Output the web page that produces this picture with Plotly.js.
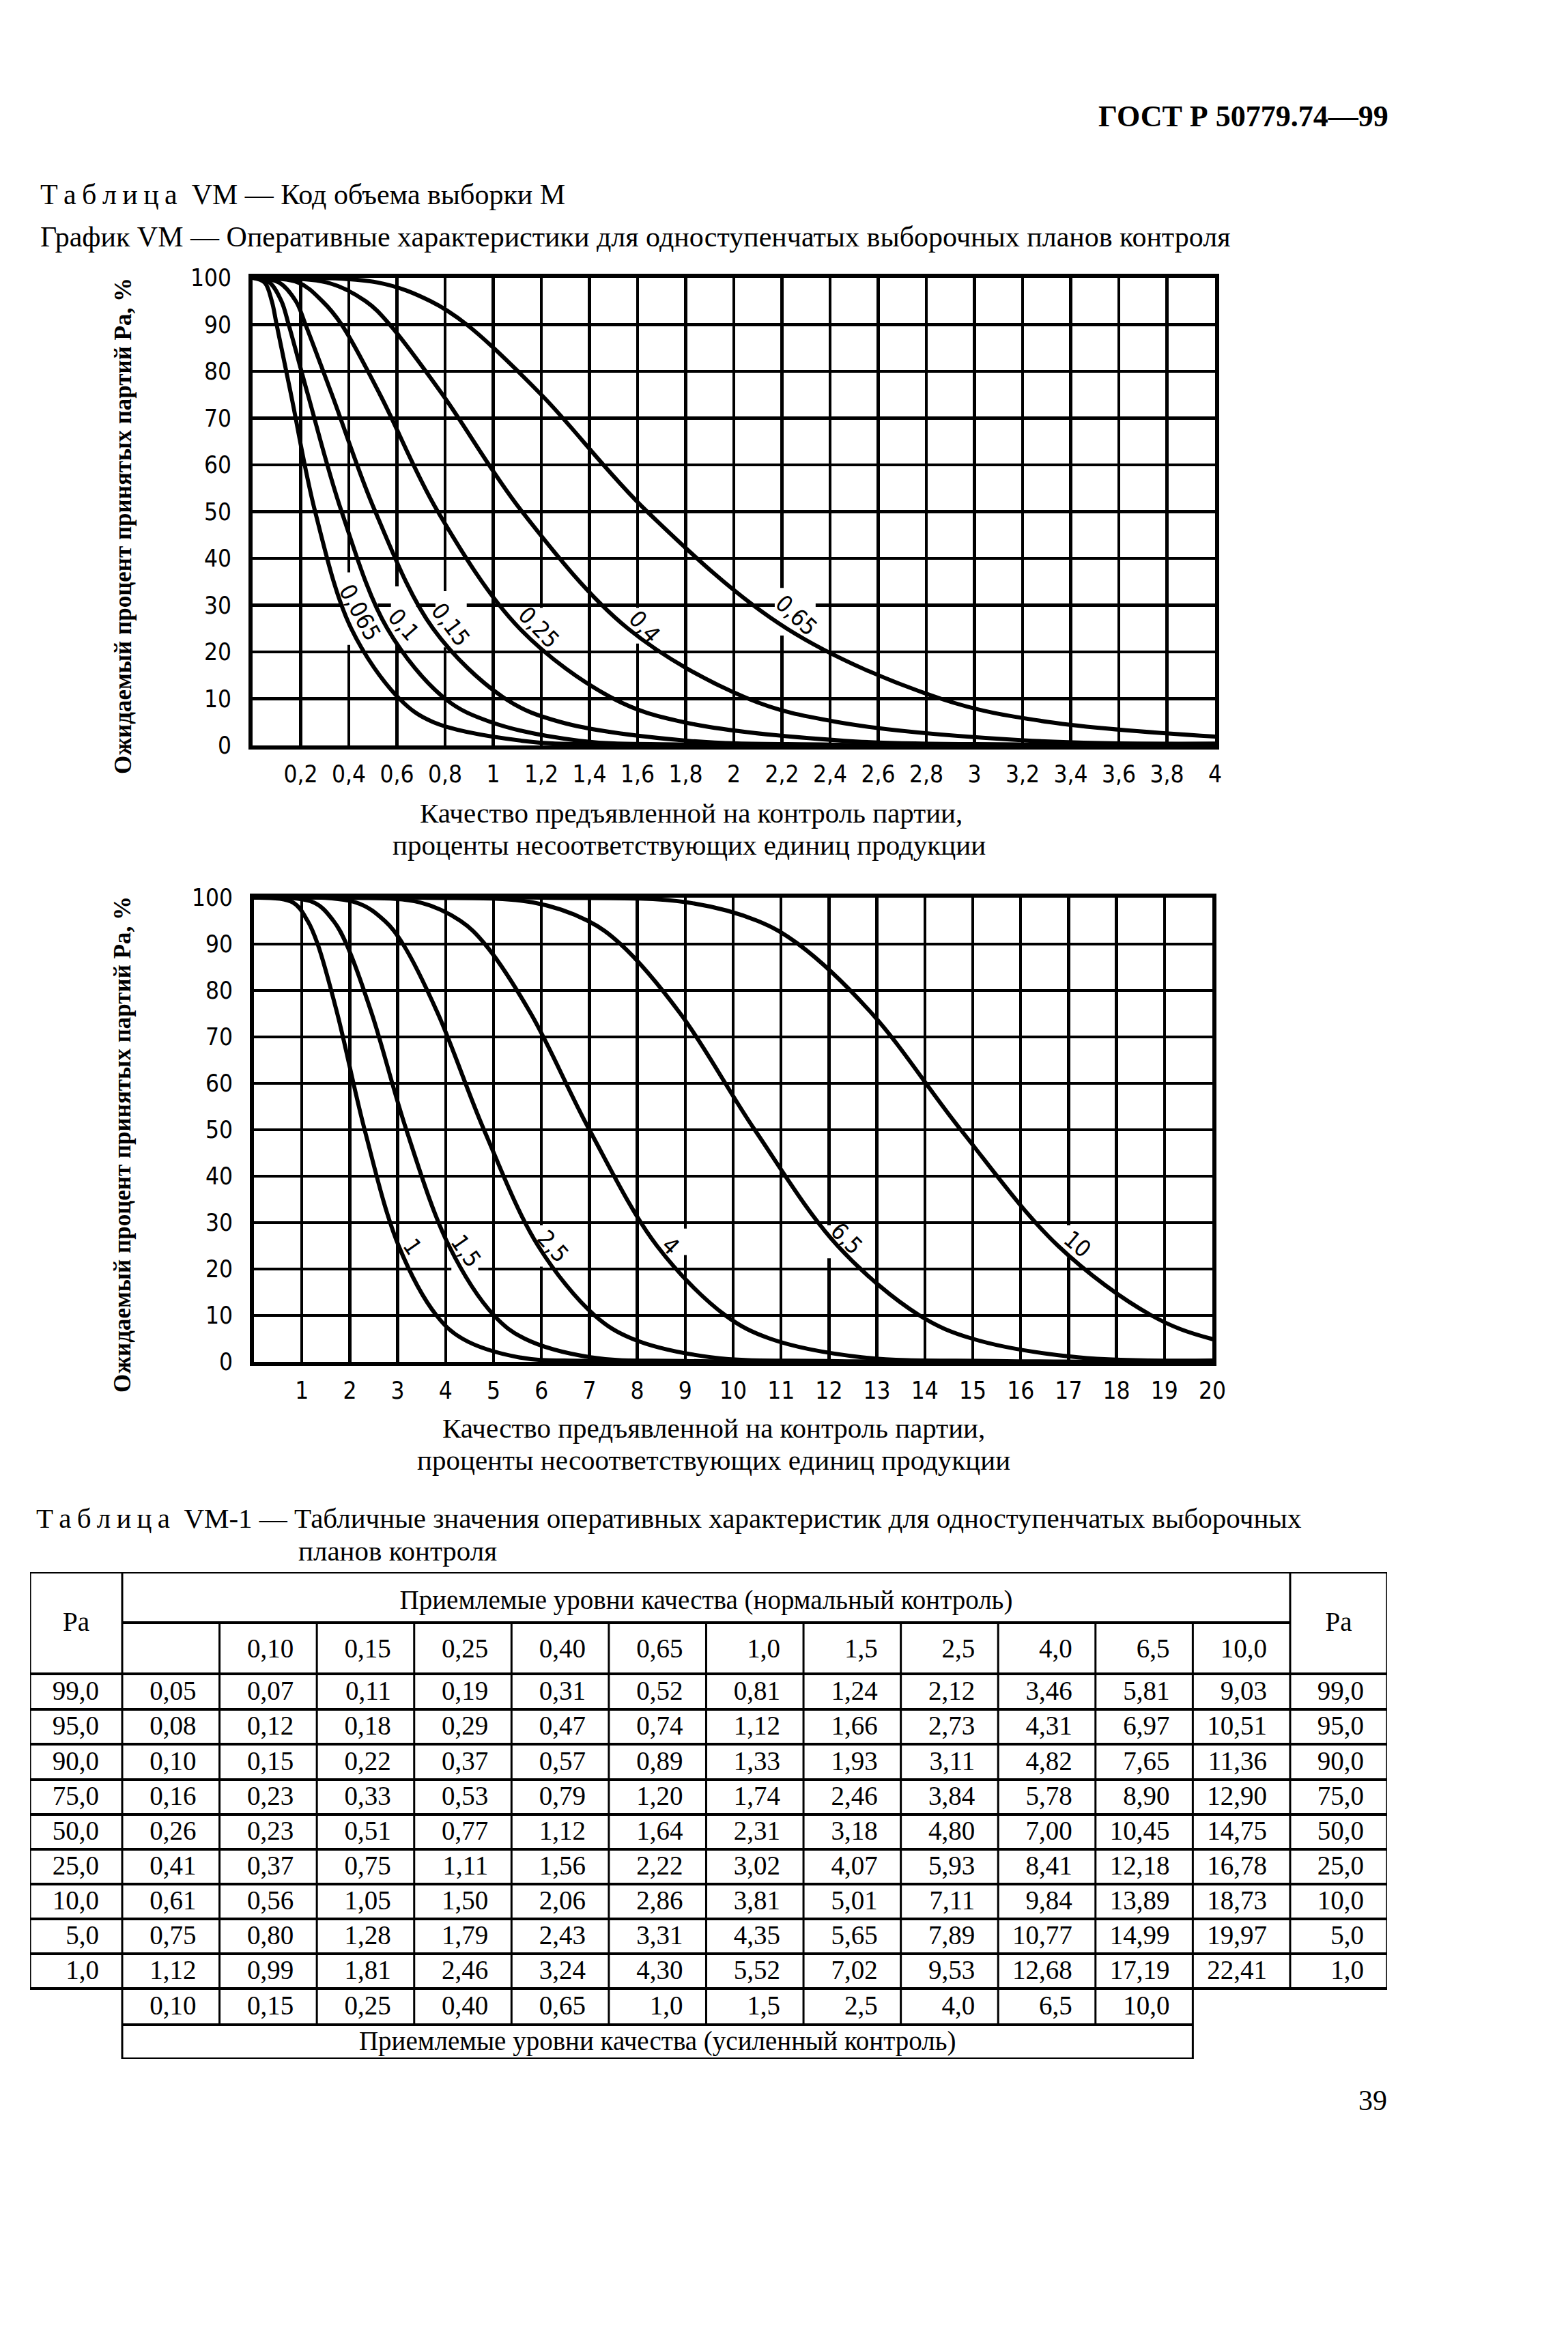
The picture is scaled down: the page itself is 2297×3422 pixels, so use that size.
<!DOCTYPE html>
<html><head><meta charset="utf-8">
<script src="https://cdn.plot.ly/plotly-3.0.1.min.js"></script>
<style>html,body{margin:0;padding:0;background:#fff}</style>
</head><body><div id="chart" style="width:2297px;height:3422px"></div>
<script>
// ---------------- DATA ----------------
// Upper chart (normal AQL 0,065 ... 0,65): Pa (%) vs quality (% nonconforming)
const topLabels = ['0,065', '0,1', '0,15', '0,25', '0,4', '0,65'];
const top065X  = [0, 0.05, 0.08, 0.10, 0.16, 0.26, 0.41, 0.61, 0.75, 1.12, 1.5, 4.0];
const top065Pa = [100, 99, 95, 90, 75, 50, 25, 10, 5, 1, 0.2, 0];
const top010X  = [0, 0.07, 0.12, 0.15, 0.23, 0.37, 0.56, 0.80, 0.99, 1.36, 1.8, 4.0];
const top010Pa = [100, 99, 95, 90, 75, 50, 25, 10, 5, 1, 0.2, 0];
const top015X  = [0, 0.11, 0.18, 0.22, 0.33, 0.51, 0.75, 1.05, 1.28, 1.81, 2.4, 4.0];
const top015Pa = [100, 99, 95, 90, 75, 50, 25, 10, 5, 1, 0.2, 0];
const top025X  = [0, 0.19, 0.29, 0.37, 0.53, 0.77, 1.11, 1.50, 1.79, 2.46, 3.2, 4.0];
const top025Pa = [100, 99, 95, 90, 75, 50, 25, 10, 5, 1, 0.2, 0.05];
const top040X  = [0, 0.31, 0.47, 0.57, 0.79, 1.12, 1.56, 2.06, 2.43, 3.24, 4.0];
const top040Pa = [100, 99, 95, 90, 75, 50, 25, 10, 5, 1, 0.4];
const top0651X  = [0, 0.52, 0.74, 0.89, 1.20, 1.64, 2.22, 2.86, 3.31, 4.30];
const top0651Pa = [100, 99, 95, 90, 75, 50, 25, 10, 5, 1];

// Lower chart (normal AQL 1 ... 10)
const botLabels = ['1', '1,5', '2,5', '4', '6,5', '10'];
const bot10X   = [0, 0.81, 1.12, 1.33, 1.74, 2.31, 3.02, 3.81, 4.35, 5.52, 7.0, 20];
const bot10Pa  = [100, 99, 95, 90, 75, 50, 25, 10, 5, 1, 0.2, 0];
const bot15X   = [0, 1.24, 1.66, 1.93, 2.46, 3.18, 4.07, 5.01, 5.65, 7.02, 9.0, 20];
const bot15Pa  = [100, 99, 95, 90, 75, 50, 25, 10, 5, 1, 0.2, 0];
const bot25X   = [0, 2.12, 2.73, 3.11, 3.84, 4.80, 5.93, 7.11, 7.89, 9.53, 12.0, 20];
const bot25Pa  = [100, 99, 95, 90, 75, 50, 25, 10, 5, 1, 0.2, 0];
const bot40X   = [0, 2.0, 3.46, 4.31, 4.82, 5.78, 7.00, 8.41, 9.84, 10.77, 12.68, 15.5, 20];
const bot40Pa  = [100, 100, 99, 95, 90, 75, 50, 25, 10, 5, 1, 0.2, 0.02];
const bot65X   = [0, 3.5, 5.81, 6.97, 7.65, 8.90, 10.45, 12.18, 13.89, 14.99, 17.19, 20];
const bot65Pa  = [100, 100, 99, 95, 90, 75, 50, 25, 10, 5, 1, 0.3];
const bot100X  = [0, 6.0, 9.03, 10.51, 11.36, 12.90, 14.75, 16.78, 18.73, 19.97, 22.41];
const bot100Pa = [100, 100, 99, 95, 90, 75, 50, 25, 10, 5, 1];

// Tick labels
const topXTickVals = [0.2,0.4,0.6,0.8,1,1.2,1.4,1.6,1.8,2,2.2,2.4,2.6,2.8,3,3.2,3.4,3.6,3.8,4];
const topXTickText = ['0,2','0,4','0,6','0,8','1','1,2','1,4','1,6','1,8','2','2,2','2,4','2,6','2,8','3','3,2','3,4','3,6','3,8','4'];
const botXTickVals = [1,2,3,4,5,6,7,8,9,10,11,12,13,14,15,16,17,18,19,20];
const botXTickText = ['1','2','3','4','5','6','7','8','9','10','11','12','13','14','15','16','17','18','19','20'];
const yTickVals = [0,10,20,30,40,50,60,70,80,90,100];
const yTickText = ['0','10','20','30','40','50','60','70','80','90','100'];

// Table VM-1
const tablePa = ['99,0','95,0','90,0','75,0','50,0','25,0','10,0','5,0','1,0'];
const normalAQL = ['0,10','0,15','0,25','0,40','0,65','1,0','1,5','2,5','4,0','6,5','10,0'];
const tightAQL  = ['0,10','0,15','0,25','0,40','0,65','1,0','1,5','2,5','4,0','6,5','10,0'];
const row99 = ['0,05','0,07','0,11','0,19','0,31','0,52','0,81','1,24','2,12','3,46','5,81','9,03'];
const row95 = ['0,08','0,12','0,18','0,29','0,47','0,74','1,12','1,66','2,73','4,31','6,97','10,51'];
const row90 = ['0,10','0,15','0,22','0,37','0,57','0,89','1,33','1,93','3,11','4,82','7,65','11,36'];
const row75 = ['0,16','0,23','0,33','0,53','0,79','1,20','1,74','2,46','3,84','5,78','8,90','12,90'];
const row50 = ['0,26','0,23','0,51','0,77','1,12','1,64','2,31','3,18','4,80','7,00','10,45','14,75'];
const row25 = ['0,41','0,37','0,75','1,11','1,56','2,22','3,02','4,07','5,93','8,41','12,18','16,78'];
const row10 = ['0,61','0,56','1,05','1,50','2,06','2,86','3,81','5,01','7,11','9,84','13,89','18,73'];
const row5  = ['0,75','0,80','1,28','1,79','2,43','3,31','4,35','5,65','7,89','10,77','14,99','19,97'];
const row1  = ['1,12','0,99','1,81','2,46','3,24','4,30','5,52','7,02','9,53','12,68','17,19','22,41'];
const tableRows = [row99,row95,row90,row75,row50,row25,row10,row5,row1];

// ---------------- LAYOUT HELPERS ----------------
const W = 2297, H = 3422;
const px = v => v / W;
const py = v => 1 - v / H;
const SERIF = 'Liberation Serif, Times New Roman, serif';
const SANS = 'DejaVu Sans Condensed, DejaVu Sans, sans-serif';

const curveLine = {color:'#000', width:6, shape:'spline', smoothing:1};
const traces = [];
[[top065X,top065Pa],[top010X,top010Pa],[top015X,top015Pa],[top025X,top025Pa],[top040X,top040Pa],[top0651X,top0651Pa]]
  .forEach(([x,y]) => traces.push({type:'scatter', mode:'lines', x, y, xaxis:'x', yaxis:'y', line:curveLine, hoverinfo:'skip'}));
[[bot10X,bot10Pa],[bot15X,bot15Pa],[bot25X,bot25Pa],[bot40X,bot40Pa],[bot65X,bot65Pa],[bot100X,bot100Pa]]
  .forEach(([x,y]) => traces.push({type:'scatter', mode:'lines', x, y, xaxis:'x2', yaxis:'y2', line:curveLine, hoverinfo:'skip'}));

// ---- table geometry (table units ~ px, origin at top-left of table) ----
const firstColW = 135, colW = 142.58, tableW = 1988;
const rowEdges = [0, 74, 149, 201, 252, 304, 355, 406, 457, 508, 559, 610, 663, 713];
const colEdge = k => firstColW + k * colW; // k = 0..12
const pad = 34;

const numX = [], numY = [], numT = [];
tableRows.forEach((row, r) => {
  const yc = (rowEdges[r+2] + rowEdges[r+3]) / 2 + 2;
  numX.push(firstColW - pad); numY.push(yc); numT.push(tablePa[r]);
  row.forEach((v, c) => { numX.push(colEdge(c+1) - pad); numY.push(yc); numT.push(v); });
  numX.push(tableW - pad); numY.push(yc); numT.push(tablePa[r]);
});
normalAQL.forEach((v, i) => { numX.push(colEdge(i+2) - pad); numY.push((rowEdges[1]+rowEdges[2])/2 + 4); numT.push(v); });
tightAQL.forEach((v, i) => { numX.push(colEdge(i+1) - pad); numY.push((rowEdges[11]+rowEdges[12])/2 + 2); numT.push(v); });

traces.push({type:'scatter', mode:'text', x:numX, y:numY, text:numT, textposition:'middle left',
  textfont:{family:SERIF, size:39, color:'#000'}, xaxis:'x3', yaxis:'y3', hoverinfo:'skip'});
traces.push({type:'scatter', mode:'text',
  x:[firstColW/2, (colEdge(12)+tableW)/2, (firstColW+colEdge(12))/2, (firstColW+colEdge(11))/2],
  y:[rowEdges[2]/2 + 2, rowEdges[2]/2 + 2, rowEdges[1]/2 + 7, (rowEdges[12]+rowEdges[13])/2 + 2],
  text:['Ра','Ра','Приемлемые уровни качества (нормальный контроль)','Приемлемые уровни качества (усиленный контроль)'],
  textposition:'middle center', textfont:{family:SERIF, size:39, color:'#000'},
  xaxis:'x3', yaxis:'y3', hoverinfo:'skip'});

const shapes = [];
const tl = (x0,y0,x1,y1,w) => shapes.push({type:'line', xref:'x3', yref:'y3', x0, y0, x1, y1, line:{color:'#000', width:w||3}});
// horizontal
tl(0,0,tableW,0,4);
tl(firstColW,74,colEdge(12),74,4);
for (let r = 2; r <= 11; r++) tl(0,rowEdges[r],tableW,rowEdges[r],4);
tl(firstColW,rowEdges[12],colEdge(11),rowEdges[12],4);
tl(firstColW,rowEdges[13],colEdge(11),rowEdges[13],4);
// vertical
tl(0,0,0,rowEdges[11],3);
tl(firstColW,0,firstColW,rowEdges[13],3);
for (let k = 1; k <= 10; k++) tl(colEdge(k),74,colEdge(k),rowEdges[12],3);
tl(colEdge(11),74,colEdge(11),rowEdges[13],3);
tl(colEdge(12),0,colEdge(12),rowEdges[11],3);
tl(tableW,0,tableW,rowEdges[11],3);

// white gaps in grid behind curve labels
const gap = (xr,yr,x0,x1,y0,y1) => shapes.push({type:'rect', xref:xr, yref:yr, x0, x1, y0, y1, layer:'between', fillcolor:'#fff', line:{width:0}});
gap('x','y',0.375,0.52,21.5,37);
gap('x','y',0.575,0.68,21.5,34);
gap('x','y',0.76,0.89,21,33);
gap('x','y',1.10,1.29,20.3,29.4);
gap('x','y',1.57,1.70,21.8,29.4);
gap('x','y',2.17,2.34,23.5,33.7);
gap('x2','y2',3.1,3.5,22.5,27);
gap('x2','y2',4.12,4.68,19.6,28.5);
gap('x2','y2',5.88,6.62,20.5,29.4);
gap('x2','y2',8.55,9.05,23,28.7);
gap('x2','y2',11.92,12.8,22.3,29.4);
gap('x2','y2',16.9,17.5,22.5,29.4);

// ---------------- ANNOTATIONS ----------------
const ann = [];
const txt = (text, x, y, opts) => ann.push(Object.assign({text, x:px(x), y:py(y), xref:'paper', yref:'paper', showarrow:false,
  xanchor:'left', yanchor:'middle', font:{family:SERIF, size:42, color:'#000'}}, opts||{}));
const sp = '\u2009';
txt('<b>ГОСТ Р 50779.74—99</b>', 2036, 171, {xanchor:'right', font:{family:SERIF, size:44, color:'#000'}});
txt(['Т','а','б','л','и','ц','а'].join(sp) + '  VM — Код объема выборки М', 57, 285);
txt('График VM — Оперативные характеристики для одноступенчатых выборочных планов контроля', 57, 347);
txt('<b>Ожидаемый процент принятых партий Ра, %</b>', 180, 771, {xanchor:'center', textangle:-90, font:{family:SERIF, size:35, color:'#000'}});
txt('<b>Ожидаемый процент принятых партий Ра, %</b>', 180, 1677, {xanchor:'center', textangle:-90, font:{family:SERIF, size:35, color:'#000'}});
txt('Качество предъявленной на контроль партии,', 1012, 1191, {xanchor:'center', font:{family:SERIF, size:41, color:'#000'}});
txt('проценты несоответствующих единиц продукции', 1009, 1238, {xanchor:'center', font:{family:SERIF, size:41, color:'#000'}});
txt('Качество предъявленной на контроль партии,', 1045, 2092, {xanchor:'center', font:{family:SERIF, size:41, color:'#000'}});
txt('проценты несоответствующих единиц продукции', 1045, 2139, {xanchor:'center', font:{family:SERIF, size:41, color:'#000'}});
txt(['Т','а','б','л','и','ц','а'].join(sp) + '  VM-1 — Табличные значения оперативных характеристик для одноступенчатых выборочных', 51, 2224, {font:{family:SERIF, size:41, color:'#000'}});
txt('планов контроля', 435, 2272, {font:{family:SERIF, size:41, color:'#000'}});
txt('39', 2034, 3077, {xanchor:'right'});

// curve labels
const topLabelPos = [[0.447,28.5,61],[0.628,25.8,49],[0.824,25.8,53],[1.19,25.2,46],[1.63,25.4,48],[2.26,27.9,43]];
topLabels.forEach((t,i) => ann.push({text:t, x:topLabelPos[i][0], y:topLabelPos[i][1], xref:'x', yref:'y', showarrow:false,
  textangle:topLabelPos[i][2], font:{family:SANS, size:34, color:'#000'}}));
const botLabelPos = [[3.31,24.9,55],[4.42,23.9,55],[6.25,24.9,48],[8.70,25,45],[12.37,26.6,45],[17.18,25.4,40]];
botLabels.forEach((t,i) => ann.push({text:t, x:botLabelPos[i][0], y:botLabelPos[i][1], xref:'x2', yref:'y2', showarrow:false,
  textangle:botLabelPos[i][2], font:{family:SANS, size:34, color:'#000'}}));

// ---------------- AXES ----------------
const axBase = {showgrid:true, gridcolor:'#000', gridwidth:4.5, showline:true, mirror:true, linewidth:6, linecolor:'#000',
  zeroline:false, ticks:'', tickfont:{family:SANS, size:35, color:'#000'}, fixedrange:true, tickmode:'array'};

const layout = {
  width:W, height:H, margin:{l:0,r:0,t:0,b:0}, paper_bgcolor:'#fff', plot_bgcolor:'#fff', showlegend:false,
  xaxis: Object.assign({}, axBase, {domain:[px(370),px(1780)], range:[0,4], tickvals:topXTickVals, ticktext:topXTickText, anchor:'y', ticklabelstandoff:6}),
  yaxis: Object.assign({}, axBase, {domain:[py(1092),py(407)], range:[0,100], tickvals:yTickVals, ticktext:yTickText, anchor:'x', ticklabelstandoff:18}),
  xaxis2: Object.assign({}, axBase, {domain:[px(372),px(1776)], range:[0,20], tickvals:botXTickVals, ticktext:botXTickText, anchor:'y2', ticklabelstandoff:6}),
  yaxis2: Object.assign({}, axBase, {domain:[py(1995),py(1315)], range:[0,100], tickvals:yTickVals, ticktext:yTickText, anchor:'x2', ticklabelstandoff:18}),
  xaxis3: {domain:[px(44),px(2032)], range:[0,tableW], visible:false, fixedrange:true, anchor:'y3'},
  yaxis3: {domain:[py(3016),py(2303)], range:[rowEdges[13],0], visible:false, fixedrange:true, anchor:'x3'},
  shapes, annotations:ann
};

Plotly.newPlot('chart', traces, layout, {displayModeBar:false, staticPlot:true});
</script>
</body></html>
